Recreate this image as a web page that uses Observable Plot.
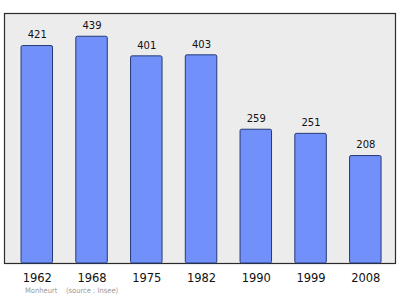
<!DOCTYPE html>
<html>
<head>
<meta charset="utf-8">
<script src="https://cdn.jsdelivr.net/npm/d3@7"></script>
<script src="https://cdn.jsdelivr.net/npm/@observablehq/plot@0.6"></script>
<style>
  html, body { margin: 0; padding: 0; background: #fff; }
  #chart { width: 400px; }
  .caption {
    font-family: "DejaVu Sans Condensed", "DejaVu Sans", sans-serif;
    font-size: 7.5px;
    color: #9a9a9a;
    margin: 0 0 0 25px;
    line-height: 12px;
    white-space: pre;
  }
</style>
</head>
<body>
<div id="chart"></div>
<script>
// Population of Monheurt by census year
const years = ["1962", "1968", "1975", "1982", "1990", "1999", "2008"];
const population = [421, 439, 401, 403, 259, 251, 208];

const rows = years.map((year, i) => ({year, value: population[i]}));

const plot = Plot.plot({
  width: 400,
  height: 285,
  marginLeft: 4,
  marginRight: 5,
  marginTop: 13,
  marginBottom: 22,
  style: {fontFamily: "DejaVu Sans, sans-serif", background: "#fff"},
  x: {domain: years, paddingInner: 0.425, paddingOuter: 0.283, align: 0.55, round: false, label: null},
  y: {domain: [0, 484], axis: null},
  marks: [
    Plot.frame({fill: "#ececec", stroke: "#2b2b2b", strokeWidth: 1.2}),
    Plot.barY(rows, {x: "year", y: "value", fill: "#7190f9", stroke: "#253a73", strokeWidth: 1, rx: 1.5}),
    Plot.text(rows, {x: "year", y: "value", text: d => String(d.value), dy: -11, fontSize: 10, fill: "#111"}),
    Plot.axisX({tickSize: 0, tickPadding: 10, fontSize: 11.5, fill: "#111"})
  ]
});
document.getElementById("chart").appendChild(plot);

const cap = document.createElement("div");
cap.className = "caption";
cap.textContent = "Monheurt    (source : Insee)";
document.getElementById("chart").appendChild(cap);
</script>
</body>
</html>
